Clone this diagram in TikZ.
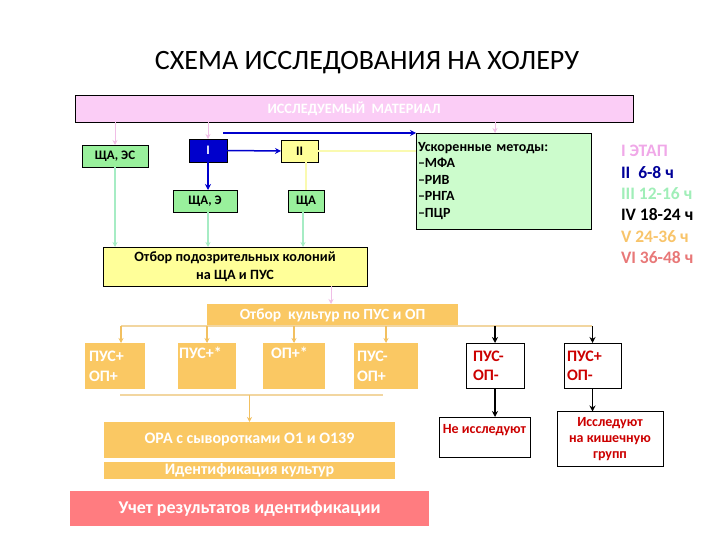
\documentclass[tikz,border=0pt]{standalone}
\usepackage{fontspec}
\setmainfont{Carlito}
\usetikzlibrary{arrows.meta}
\definecolor{pinkfill}{HTML}{FBCDF6}
\definecolor{pinkline}{HTML}{F0BEE6}
\definecolor{greenfill}{HTML}{99F09C}
\definecolor{lgreenfill}{HTML}{CCFCCC}
\definecolor{greenline}{HTML}{A6ECC4}
\definecolor{yelfill}{HTML}{FFFF99}
\definecolor{yelline}{HTML}{FAFAB0}
\definecolor{orfill}{HTML}{FAC863}
\definecolor{orline}{HTML}{F2D6A0}
\definecolor{orarrow}{HTML}{F2C060}
\definecolor{bluefill}{HTML}{0000CC}
\definecolor{darkblue}{HTML}{000099}
\definecolor{redtext}{HTML}{CC0000}
\definecolor{salmon}{HTML}{FF7C80}
\definecolor{salmontext}{HTML}{E87878}
\definecolor{orangetext}{HTML}{F8C46A}
\definecolor{pinktext}{HTML}{F0A8E8}
\definecolor{greentext}{HTML}{A0EEB8}
\begin{document}
\begin{tikzpicture}[x=1pt,y=-1pt,
  every node/.style={inner sep=0pt,outer sep=0pt},
  bx/.style={draw=black,line width=0.7pt,font=\bfseries\fontsize{13}{15}\selectfont},
  obx/.style={fill=orfill,text=white,font=\bfseries\fontsize{16}{18}\selectfont},
  rbx/.style={draw=black,line width=0.8pt,text=redtext,font=\bfseries\fontsize{16}{20}\selectfont},
  leg/.style={anchor=west,font=\bfseries\fontsize{17.5}{20}\selectfont},
  pinkarr/.style={draw=pinkline,line width=1pt,-{Stealth[length=5pt,width=5pt]}},
  greenarr/.style={draw=greenline,line width=1.2pt,-{Stealth[length=5pt,width=5pt]}},
  yelarr/.style={draw=yelline,line width=1.5pt},
  bluearr/.style={draw=bluefill,line width=1.5pt,-{Stealth[length=6pt,width=6pt]}},
  orarr/.style={draw=orarrow,line width=1.2pt,-{Stealth[length=5pt,width=5pt]}},
  orl/.style={draw=orline,line width=1.5pt},
  blkarr/.style={draw=black,line width=1.5pt,-{Stealth[length=6pt,width=6pt]}}]
\useasboundingbox (0,0) rectangle (720,540);
% title
\node[font=\fontsize{28}{32}\selectfont] (title) at (367,63) {СХЕМА ИССЛЕДОВАНИЯ НА ХОЛЕРУ};
% material
\node[bx,fill=pinkfill,text=white,minimum width=558pt,minimum height=27pt,font=\bfseries\fontsize{14.3}{16}\selectfont] (mat) at (354,108.5) {ИССЛЕДУЕМЫЙ\ \ МАТЕРИАЛ};
\node[bx,fill=greenfill,minimum width=66pt,minimum height=22pt] (shes) at (115,156) {ЩА, ЭС};
\node[bx,fill=bluefill,text=white,minimum width=38pt,minimum height=23pt] (n1) at (208,150.5) {I};
\node[bx,fill=yelfill,minimum width=37pt,minimum height=22pt] (n2) at (299.5,151) {II};
\node[bx,fill=greenfill,minimum width=64pt,minimum height=22pt] (she) at (205,201) {ЩА, Э};
\node[bx,fill=greenfill,minimum width=36pt,minimum height=22pt] (sha) at (306,201) {ЩА};
\node[bx,fill=lgreenfill,minimum width=175pt,minimum height=96pt,align=left,text width=171pt,font=\bfseries\fontsize{14}{16.5}\selectfont] (usk) at (503.5,181) {Ускоренные методы:\\–МФА\\–РИВ\\–РНГА\\–ПЦР\\[4pt]};
\node[bx,fill=yelfill,minimum width=264pt,minimum height=39pt,align=center,font=\bfseries\fontsize{14.2}{18}\selectfont] (ot1) at (235,266.5) {Отбор подозрительных колоний\\на ЩА и ПУС};
\node[obx,minimum width=251pt,minimum height=22pt,font=\bfseries\fontsize{15.5}{18}\selectfont] (ot2) at (332.5,315) {Отбор\ \ культур по ПУС и ОП};
% orange boxes
\node[obx,minimum width=60pt,minimum height=46pt,align=left,text width=52pt,font=\bfseries\fontsize{16}{20}\selectfont] (o1) at (115,366) {ПУС+\\ОП+};
\node[obx,minimum width=58pt,minimum height=46pt,align=left,text width=56pt,font=\bfseries\fontsize{16}{26}\selectfont] (o2) at (207,366) {ПУС+*\\~};
\node[obx,minimum width=62pt,minimum height=46pt,align=left,text width=46pt,font=\bfseries\fontsize{16}{26}\selectfont] (o3) at (294,366) {ОП+*\\~};
\node[obx,minimum width=64pt,minimum height=46pt,align=left,text width=58pt,font=\bfseries\fontsize{16}{20}\selectfont] (o4) at (386,366) {ПУС-\\ОП+};
% black boxes
\node[rbx,minimum width=58pt,minimum height=45pt,align=left,text width=44pt,font=\bfseries\fontsize{16}{19}\selectfont] (b1) at (495,365.5) {ПУС-\\ОП-};
\node[rbx,minimum width=57pt,minimum height=45pt,align=left,text width=51pt,font=\bfseries\fontsize{16}{19}\selectfont] (b2) at (592.5,365.5) {ПУС+\\ОП-};
\node[rbx,minimum width=91pt,minimum height=40pt,align=center,font=\bfseries\fontsize{14}{17}\selectfont] (ne) at (484.5,437) {Не исследуют\\~};
\node[rbx,minimum width=106pt,minimum height=55pt,align=center,font=\bfseries\fontsize{14}{16}\selectfont] (is) at (610,439) {Исследуют\\на кишечную\\групп};
% bottom
\node[obx,minimum width=291pt,minimum height=36pt] (ora) at (249.5,440) {ОРА с сыворотками О1 и О139};
\node[obx,minimum width=291pt,minimum height=17pt] (idn) at (249.5,470.5) {Идентификация культур};
\node[fill=salmon,text=white,minimum width=359pt,minimum height=35pt,font=\bfseries\fontsize{18}{20}\selectfont] (uch) at (249.5,508.5) {Учет результатов идентификации};
% legend
\node[leg,text=pinktext] (l1) at (621,151) {I ЭТАП};
\node[leg,text=darkblue] (l2) at (621,173) {II\ \ 6-8 ч};
\node[leg,text=greentext] (l3) at (621,194) {III 12-16 ч};
\node[leg,text=black] (l4) at (621,215) {IV 18-24 ч};
\node[leg,text=orangetext] (l5) at (621,237) {V 24-36 ч};
\node[leg,text=salmontext] (l6) at (621,258) {VI 36-48 ч};
% connectors: pink
\draw[pinkarr] (mat.south -| shes.north) -- (shes.north);
\draw[pinkarr] (mat.south -| n1.north) -- (n1.north);
\coordinate (uskp) at (495,133);
\draw[pinkarr] (mat.south -| uskp) -- (uskp);
% blue
\coordinate (bstart) at (223,133);
\draw[bluearr] (bstart) -- (usk.north west);
\draw[bluearr] (n1.east) -- (n2.west);
\draw[bluearr] (n1.south) -- (she.north -| n1.south);
% yellow
\draw[yelarr] (n2.south -| sha.north) -- (sha.north);
\draw[yelarr] (n2.east) -- (n2.east -| usk.west);
% green
\draw[greenarr] (shes.south) -- (ot1.north -| shes.south);
\draw[greenarr] (she.south -| n1.south) -- (ot1.north -| n1.south);
\draw[greenarr] (sha.south -| 303,0) -- (ot1.north -| 303,0);
% pink to ot2
\coordinate (pk) at (331,0);
\draw[pinkarr] (ot1.south -| pk) -- (ot2.north -| pk);
% orange tree
\coordinate (tl) at (121,326);
\coordinate (tr) at (592,326);
\draw[orl] (tl) -- (tr);
\draw[orarr] (tl) -- (o1.north -| tl);
\draw[orarr] (o2.north |- tl) -- (o2.north);
\draw[orarr] (o3.north |- tl) -- (o3.north);
\draw[orarr] (o4.north |- tl) -- (o4.north);
\draw[blkarr] (b1.north |- tl) -- (b1.north);
\draw[blkarr] (b2.north |- tl) -- (b2.north);
\draw[blkarr] (b1.south) -- (ne.north -| b1.south);
\draw[blkarr] (b2.south) -- (is.north -| b2.south);
% lower orange
\coordinate (bl) at (120,395);
\coordinate (br) at (383,395);
\draw[orl] (bl) -- (br);
\draw[orarr] (ora.north |- bl) -- (ora.north);
\end{tikzpicture}
\end{document}
